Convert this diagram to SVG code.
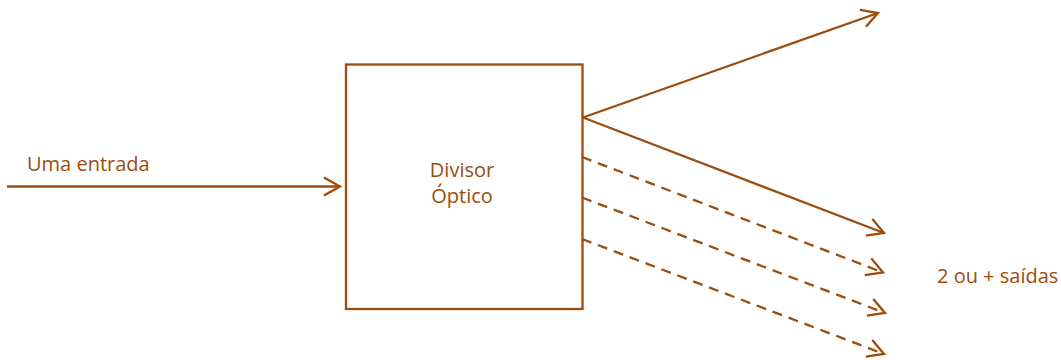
<svg xmlns="http://www.w3.org/2000/svg" width="1061" height="360" viewBox="0 0 1061 360">
<style>
.ln{stroke:#9C4C0C;stroke-width:2.3;fill:none}
.dash{stroke-dasharray:10 7}
.t{font-family:"Open Sans","Noto Sans",sans-serif;font-size:20px;fill:#9C4C0C}
</style>
<defs>
<marker id="ah" markerUnits="userSpaceOnUse" markerWidth="24" markerHeight="24" viewBox="-20 -12 24 24" refX="0" refY="0" orient="auto">
<path d="M-16,-9 L0,0 L-16,9" stroke="#9C4C0C" stroke-width="2.3" fill="none"/>
</marker>
</defs>
<rect width="1061" height="360" fill="#fff"/>
<g id="divisor">
<rect class="ln" x="346" y="64.5" width="236.5" height="244.5"/>
<text class="t" x="462" y="177" text-anchor="middle">Divisor</text>
<text class="t" x="462" y="203" text-anchor="middle">Óptico</text>
</g>
<g id="entrada-label"><text class="t" x="27" y="171">Uma entrada</text></g>
<g id="saidas-label"><text class="t" x="937" y="283">2 ou + saídas</text></g>
<g id="connectors">
<line class="ln" x1="7" y1="186.5" x2="340" y2="186.5" marker-end="url(#ah)"/>
<line class="ln" x1="583" y1="117.5" x2="878" y2="13" marker-end="url(#ah)"/>
<line class="ln" x1="583" y1="117.5" x2="884" y2="233" marker-end="url(#ah)"/>
<line class="ln dash" x1="582" y1="157" x2="883" y2="272.5" marker-end="url(#ah)"/>
<line class="ln dash" x1="582" y1="197.5" x2="885" y2="313" marker-end="url(#ah)"/>
<line class="ln dash" x1="582" y1="239" x2="884" y2="354" marker-end="url(#ah)"/>
</g>
</svg>
